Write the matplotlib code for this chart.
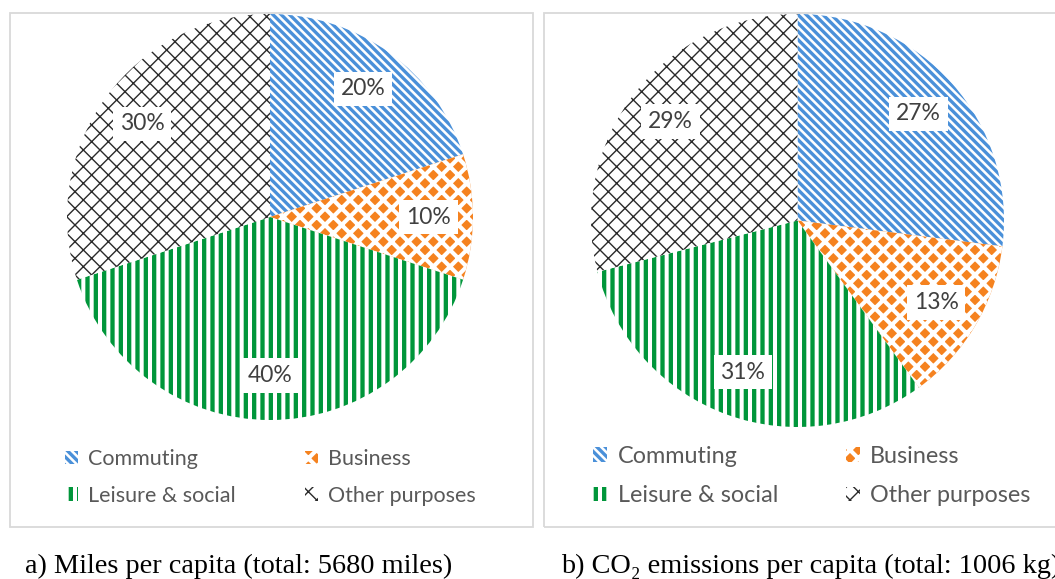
import matplotlib
matplotlib.use('Agg')
import matplotlib.pyplot as plt
import matplotlib.patches as mpatches

W, H = 1055, 579

categories = ['Commuting', 'Business', 'Leisure & social', 'Other purposes']
miles_share = [20, 10, 40, 30]
co2_share = [27, 13, 31, 29]
caption_a = 'a) Miles per capita (total: 5680 miles)'
caption_b = 'b) CO\u2082 emissions per capita (total: 1006 kg)'

# (face colour, hatch colour, hatch pattern, hatch linewidth) per category
faces = ['white', '#f5821f', 'white', 'white']
hatch_colors = ['#4a90d9', 'white', '#00963a', '#2a2a2a']
hatches = ['\\\\\\\\', 'xx', '||', 'xx']
hatch_lws = [2.4, 3.0, 3.1, 1.0]

SANS = ['Lato', 'DejaVu Sans']
SERIF = ['Liberation Serif', 'DejaVu Serif']

fig = plt.figure(figsize=(W / 100, H / 100), dpi=100)


def px_axes(x0, ytop, w, h):
    return fig.add_axes([x0 / W, 1 - (ytop + h) / H, w / W, h / H])


def style_patch(p, i):
    p.set_facecolor(faces[i])
    p.set_edgecolor(hatch_colors[i])
    p.set_hatch(hatches[i])
    p.set_linewidth(0)
    try:
        p.set_hatch_linewidth(hatch_lws[i])
    except AttributeError:
        pass


# panel frames
for (x0, x1) in [(10, 533), (544, 1062)]:
    fig.patches.append(mpatches.Rectangle((x0 / W, 1 - 527 / H), (x1 - x0) / W, (527 - 13) / H,
                                          transform=fig.transFigure, facecolor='none',
                                          edgecolor='#d9d9d9', linewidth=1.3, zorder=5))


def draw_pie(ax, values):
    wedges, texts, autotexts = ax.pie(values, startangle=90, counterclock=False,
                                      colors=faces, autopct='%.0f%%',
                                      pctdistance=0.78,
                                      textprops=dict(fontsize=16.5, color='#404040', family=SANS))
    for i, w in enumerate(wedges):
        style_patch(w, i)
    for t in autotexts:
        t.set_bbox(dict(boxstyle='square,pad=0.3', facecolor='white', edgecolor='none'))
    ax.set_xlim(-1, 1)
    ax.set_ylim(-1, 1)
    ax.axis('off')


ax1 = px_axes(67, 14, 406, 406)
draw_pie(ax1, miles_share)
ax2 = px_axes(591, 14, 413, 413)
draw_pie(ax2, co2_share)


def draw_legend(x, ytop, size, colspace):
    handles = []
    for i in range(len(categories)):
        p = mpatches.Patch()
        style_patch(p, i)
        handles.append(p)
    order = [0, 2, 1, 3]
    leg = fig.legend([handles[i] for i in order], [categories[i] for i in order],
                     loc='upper left', bbox_to_anchor=(x / W, 1 - ytop / H), ncol=2,
                     frameon=False, prop=dict(family=SANS, size=size), labelcolor='#595959',
                     handlelength=0.6, handleheight=0.6, handletextpad=0.45,
                     columnspacing=colspace, labelspacing=0.78, borderpad=0, borderaxespad=0)
    for hp, i in zip(leg.legend_handles, order):
        style_patch(hp, i)


draw_legend(65, 449, 15.5, 3.25)
draw_legend(593, 446, 16.8, 2.9)

fig.text(25 / W, 1 - 566 / H, caption_a, ha='left', va='center', fontsize=20.3,
         family=SERIF, color='black')
fig.text(561 / W, 1 - 566 / H, caption_b, ha='left', va='center', fontsize=20.3,
         family=SERIF, color='black')

fig.savefig('out.png', dpi=100)
